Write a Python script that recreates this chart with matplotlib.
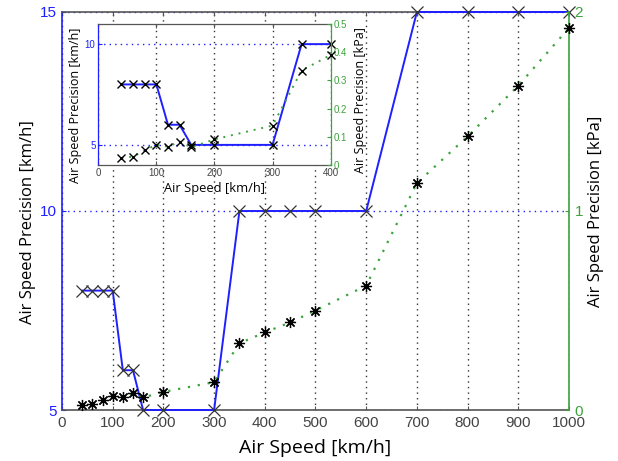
import numpy as np
import matplotlib
matplotlib.use("Agg")
import matplotlib.pyplot as plt

# measured points: air speed vs. required precision
speed = np.array([40, 60, 80, 100, 120, 140, 160, 200, 300, 350, 400, 450, 500, 600, 700, 800, 900, 1000])
precision_kmh = np.array([8, 8, 8, 8, 6, 6, 5, 5, 5, 10, 10, 10, 10, 10, 15, 15, 15, 15])
precision_kpa = np.array([0.025, 0.03, 0.052, 0.072, 0.065, 0.083, 0.063, 0.091, 0.14,
                          0.335, 0.39, 0.44, 0.50, 0.625, 1.14, 1.375, 1.63, 1.92])

main_xticks = [0, 100, 200, 300, 400, 500, 600, 700, 800, 900, 1000]
main_kmh_ticks = [5, 10, 15]
main_kpa_ticks = [0, 1, 2]
inset_xticks = [0, 100, 200, 300, 400]
inset_kmh_ticks = [5, 10]
inset_kpa_ticks = [0, 0.1, 0.2, 0.3, 0.4, 0.5]
inset_kpa_labels = ["0", "0.1", "0.2", "0.3", "0.4", "0.5"]

BLUE = "#1f1fff"
GREEN = "#3ca33c"
GRAY = "#555555"
TICKFONT = "Liberation Sans"
LABELFONT = "Open Sans"

asterisk = (8, 2, 0)


def style_axes(ax, ax2, tick_size, lw, pad):
    ax.spines["left"].set_color(BLUE)
    ax.spines["right"].set_visible(False)
    ax.spines["top"].set_color(GRAY)
    ax.spines["bottom"].set_color(GRAY)
    ax2.spines["right"].set_color(GREEN)
    ax2.spines["left"].set_visible(False)
    ax2.spines["top"].set_visible(False)
    ax2.spines["bottom"].set_visible(False)
    for s in ax.spines.values():
        s.set_linewidth(lw)
    ax2.spines["right"].set_linewidth(lw)
    ax.tick_params(axis="x", direction="in", top=True, color=GRAY, labelcolor="#444444",
                   length=3, labelsize=tick_size, pad=pad)
    ax.tick_params(axis="y", direction="in", colors=BLUE, length=3,
                   labelsize=tick_size, pad=pad)
    ax2.tick_params(axis="y", direction="in", colors=GREEN, length=3,
                    labelsize=tick_size, pad=pad)
    for lab in ax.get_xticklabels() + ax.get_yticklabels() + ax2.get_yticklabels():
        lab.set_family(TICKFONT)
    ax.xaxis.grid(True, color="#333333", linestyle=(0, (1, 3)), linewidth=1.0)
    ax.yaxis.grid(True, color=BLUE, linestyle=(0, (1, 3)), linewidth=1.0)


fig = plt.figure(figsize=(6.18, 4.61), dpi=100)

# main axes
ax = fig.add_axes([0.1003, 0.1106, 0.8204, 0.8634])
ax2 = ax.twinx()
ax.set_xlim(0, 1000)
ax.set_ylim(5, 15)
ax2.set_ylim(0, 2)
ax.set_xticks(main_xticks)
ax.set_yticks(main_kmh_ticks)
ax2.set_yticks(main_kpa_ticks)
style_axes(ax, ax2, 11, 1.2, 4)

ax.plot(speed, precision_kmh, color=BLUE, linewidth=1.4, marker="x", markersize=8,
        markeredgecolor="#333333", markeredgewidth=0.9, clip_on=False, zorder=3)
ax2.plot(speed, precision_kpa, color=GREEN, linestyle=(0, (1, 3.5)), linewidth=1.6,
         marker=asterisk, markersize=8, markeredgecolor="black",
         markeredgewidth=0.9, clip_on=False, zorder=3)

ax.set_xlabel("Air Speed [km/h]", family=LABELFONT, fontsize=14)
ax.set_ylabel("Air Speed Precision [km/h]", family=LABELFONT, fontsize=12)
ax2.set_ylabel("Air Speed Precision [kPa]", family=LABELFONT, fontsize=12)
ax.xaxis.set_label_coords(0.5, -0.072)
ax.yaxis.set_label_coords(-0.052, 0.472)
ax2.yaxis.set_label_coords(1.037, 0.5)

# zoomed view of the low-speed range
near = speed <= 400
ins = fig.add_axes([0.159, 0.642, 0.376, 0.306])
ins.set_facecolor("white")
ins2 = ins.twinx()
ins.set_xlim(0, 400)
ins.set_ylim(4, 11)
ins2.set_ylim(0, 0.5)
ins.set_xticks(inset_xticks)
ins.set_yticks(inset_kmh_ticks)
ins2.set_yticks(inset_kpa_ticks)
ins2.set_yticklabels(inset_kpa_labels)
style_axes(ins, ins2, 7, 0.9, 2)

ins.plot(speed[near], precision_kmh[near], color=BLUE, linewidth=1.4, marker="x",
         markersize=6, markeredgecolor="black", markeredgewidth=1.0, clip_on=False, zorder=3)
ins2.plot(speed[near], precision_kpa[near], color=GREEN, linestyle=(0, (1, 3)), linewidth=1.4,
          marker="x", markersize=6, markeredgecolor="black", markeredgewidth=1.0,
          clip_on=False, zorder=3)

ins.set_xlabel("Air Speed [km/h]", family=LABELFONT, fontsize=9.3)
ins.set_ylabel("Air Speed Precision [km/h]", family=LABELFONT, fontsize=9)
ins2.set_ylabel("Air Speed Precision [kPa]", family=LABELFONT, fontsize=9)
ins.xaxis.set_label_coords(0.5, -0.12)
ins.yaxis.set_label_coords(-0.07, 0.42)
ins2.yaxis.set_label_coords(1.1, 0.46)

fig.savefig("out.png", dpi=100)
